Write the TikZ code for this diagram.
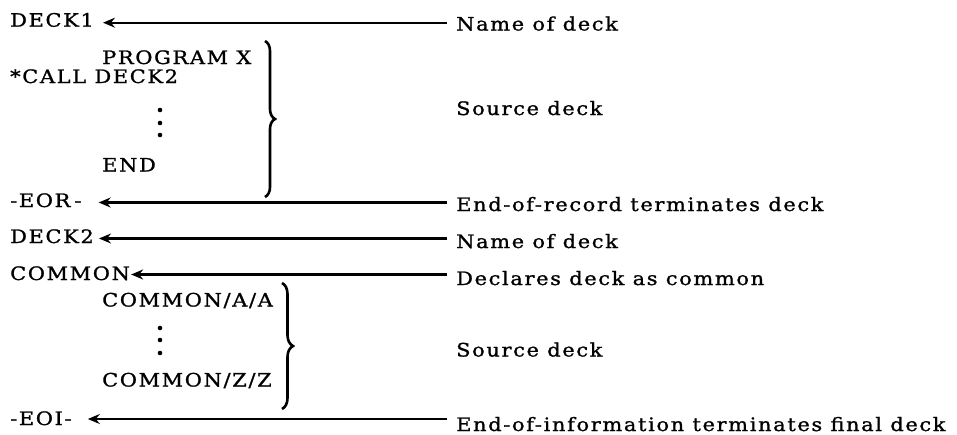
\documentclass[tikz,border=0pt]{standalone}
\usepackage{fontspec}
\setmainfont{DejaVu Serif}[LetterSpace=9, FakeBold=1.2, FakeStretch=1.13]
\usetikzlibrary{arrows.meta,decorations.pathreplacing,calc}

\tikzset{
  card/.style={anchor=base west, inner sep=0pt, font=\fontsize{18.5}{21}\selectfont},
  note/.style={anchor=base west, inner sep=0pt, font=\fontsize{18.5}{21}\selectfont},
  pointer/.style={-{Stealth[length=12pt,width=10pt,inset=4pt]}, line width=2.2pt, shorten <=9pt},
  curly/.style={decorate, decoration={brace, amplitude=#1}, line width=2.6pt},
  dot/.style={circle, fill, inner sep=0pt, minimum size=4.6pt}
}

\begin{document}
\begin{tikzpicture}[x=1pt, y=-1pt]
\useasboundingbox (0,0) rectangle (957,434);

% first deck
\node[card] (deck1) at (10,26.7) {DECK1};
\node[card] (prog)  at (102,64) {PROGRAM X};
\node[card] (call)  at (10,83) {*CALL DECK2};
\node[dot] (d1) at (160,110) {};
\node[dot] (d2) at (160,123) {};
\node[dot] (d3) at (160,135) {};
\node[card] (end)   at (102,171.5) {END};
\node[card] (eor)   at (10,207) {-EOR\kern4pt-};

% second deck
\node[card] (deck2) at (10,243) {DECK2};
\node[card] (comm)  at (10,280) {COMMON};
\node[card] (ca)    at (102,306.5) {COMMON/A/A};
\node[dot] (e1) at (160,328) {};
\node[dot] (e2) at (160,340) {};
\node[dot] (e3) at (160,353) {};
\node[card] (cz)    at (102,386.5) {COMMON/Z/Z};
\node[card] (eoi)   at (10,425) {-EOI-};

% explanations
\node[note] (n1) at (456,30.5)  {Name of deck};
\node[note] (s1) at (456,115)   {Source deck};
\node[note] (n2) at (456,211)   {End-of-record terminates deck};
\node[note] (n3) at (456,248)   {Name of deck};
\node[note] (n4) at (456,285)   {Declares deck as common};
\node[note] (s2) at (456,356.5) {Source deck};
\node[note] (n5) at (456,431)   {End-of-information terminates final deck};

% pointer heights, a little above each card's baseline
\coordinate (p1) at ($(deck1.base east)+(0,-4)$);
\coordinate (p2) at ($(eor.base east)+(0,-4.5)$);
\coordinate (p3) at ($(deck2.base east)+(0,-4.5)$);
\coordinate (p4) at ($(comm.base east)+(0,-5.5)$);
\coordinate (p5) at ($(eoi.base east)+(0,-6)$);

% pointers
\draw[pointer, shorten >=9pt]  (p1 -| n1.west) -- (p1);
\draw[pointer, shorten >=17pt] (p2 -| n2.west) -- (p2);
\draw[pointer, shorten >=5pt]  (p3 -| n3.west) -- (p3);
\draw[pointer, shorten >=1pt]  (p4 -| n4.west) -- (p4);
\draw[pointer, shorten >=16pt] (p5 -| n5.west) -- (p5);

% braces
\coordinate (b1t) at (265,41);
\coordinate (b1b) at (265,197);
\coordinate (b2t) at (282,283);
\coordinate (b2b) at (282,409);
\draw[curly=10pt] (b1t) -- (b1b);
\draw[curly=11pt] (b2t) -- (b2b);
\end{tikzpicture}
\end{document}
